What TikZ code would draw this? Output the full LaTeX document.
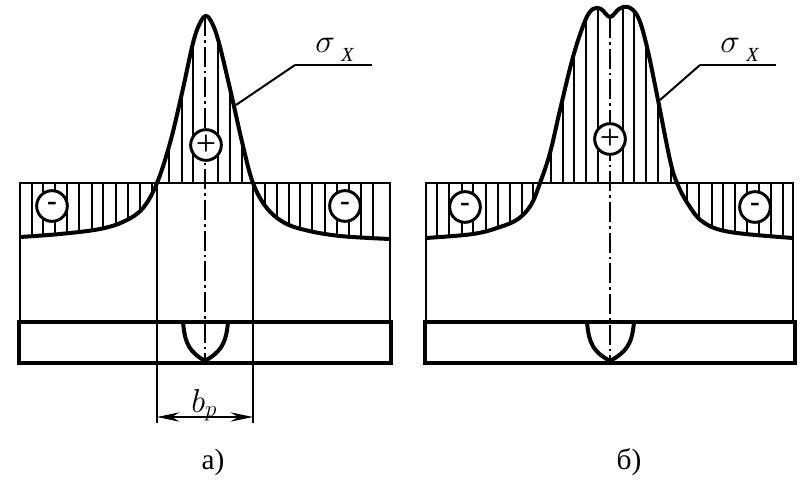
\documentclass[tikz,border=0pt]{standalone}
\usepackage{fontspec}
\setmainfont{Liberation Serif}
\usetikzlibrary{arrows.meta}

\tikzset{
  thinline/.style={line width=1.4pt},
  hatchline/.style={line width=1.2pt},
  curveline/.style={line width=3pt, line join=round},
  barline/.style={line width=3.6pt, line join=miter},
  leaderline/.style={line width=1.5pt},
  shelfline/.style={line width=2.2pt},
  axisline/.style={line width=1.3pt, dash pattern=on 15pt off 3pt on 2pt off 3pt},
  signnode/.style={circle, draw, line width=2.2pt, fill=white, minimum size=23pt, inner sep=0pt},
  plusnode/.style={signnode, font=\fontsize{27}{27}\selectfont},
  minusnode/.style={signnode, font=\fontsize{22}{22}\selectfont\bfseries},
  caption/.style={font=\fontsize{22}{22}\selectfont},
  sigmalabel/.style={anchor=base west, inner sep=0pt, font=\fontsize{29}{29}\selectfont},
  widthlabel/.style={anchor=base west, inner sep=0pt, font=\fontsize{24}{24}\selectfont},
  dimarrow/.style={line width=1.3pt, {Stealth[length=17pt, width=7pt, inset=6pt]}-{Stealth[length=17pt, width=7pt, inset=6pt]}}
}

\newcommand{\sigmax}{$\sigma$\,\lower6.7pt\hbox{\fontsize{15}{15}\selectfont\itshape X}}

\def\curveA{plot[smooth, tension=0.6] coordinates {(20,237) (60,234) (100,229) (125,221) (143,208) (157,183) (170,143) (182,93) (193,43) (200,23) (206,16) (212,23) (219,43) (231,93) (243,146) (253,183) (266,207) (283,222) (305,230) (340,236) (390,239)}}
\def\curveB{plot[smooth, tension=0.6] coordinates {(426,238) (473,234) (500,227) (518,219) (531,205) (540,183) (550,153) (560,110) (573,57) (585,21) (593,9) (601,9) (610,17) (619,9) (628,7) (638,17) (647,47) (658,100) (670,160) (677,183) (688,204) (703,222) (730,232) (793,238)}}

\begin{document}
\begin{tikzpicture}[x=0.75pt, y=-0.75pt]
  \useasboundingbox (0,0) rectangle (811,481);

  % left
  \begin{scope}
    \clip \curveA -- (390,183) -- (20,183) -- cycle;
    \foreach \x in {32,43,55,67,79,92,103,116,128,140,152,169,182,193,218,230,242,265,277,289,300,312,325,337,349,361,373}
      \draw[hatchline] (\x,0) -- (\x,300);
  \end{scope}

  \coordinate (Atl) at (20,183);
  \coordinate (Atr) at (390,183);
  \coordinate (Abl) at (20,322);
  \coordinate (Abr) at (390,322);
  \coordinate (Aml) at (157,183);
  \coordinate (Amr) at (253,183);
  \coordinate (Adl) at (157,423);
  \coordinate (Adr) at (253,423);
  \coordinate (Ael) at (157,417);
  \coordinate (Aer) at (253,417);
  \coordinate (Act) at (205,16);
  \coordinate (Acb) at (205,361);

  \draw[thinline] (Abl) -- (Atl) -- (Atr) -- (Abr);
  \draw[thinline] (Aml) -- (Adl);
  \draw[thinline] (Amr) -- (Adr);
  \draw[axisline] (Act) -- (Acb);
  \draw[curveline] \curveA;
  \draw[barline] (19,322) rectangle (391,363);
  \draw[curveline] (183,322) .. controls (185,345) and (190,352) .. (205,361) .. controls (220,352) and (226,345) .. (228,322);
  \draw[dimarrow] (Ael) -- (Aer);

  \node[plusnode] (Aplus) at (206,145) {+};
  \node[minusnode] (Aminl) at (52,206) {-};
  \node[minusnode] (Aminr) at (345,206) {-};

  \coordinate (Ala) at (236,105);
  \coordinate (Alb) at (295,65);
  \coordinate (Alc) at (372,65);
  \draw[leaderline] (Ala) -- (Alb);
  \draw[shelfline] (Alb) -- (Alc);
  \node[sigmalabel] (Asigma) at (315,53) {\sigmax};
  \node[widthlabel] (Abp) at (191,412) {$b_p$};
  \node[caption] (Acap) at (213,462) {а)};

  % right
  \begin{scope}
    \clip \curveB -- (793,183) -- (426,183) -- cycle;
    \foreach \x in {437,449,462,473,486,498,510,522,533,551,563,574,586,598,623,634,646,658,671,687,699,712,723,735,747,759,771,783}
      \draw[hatchline] (\x,0) -- (\x,300);
  \end{scope}

  \coordinate (Btl) at (426,183);
  \coordinate (Btr) at (793,183);
  \coordinate (Bbl) at (426,322);
  \coordinate (Bbr) at (793,322);
  \coordinate (Bct) at (610,18);
  \coordinate (Bcb) at (610,361);

  \draw[thinline] (Bbl) -- (Btl) -- (Btr) -- (Bbr);
  \draw[axisline] (Bct) -- (Bcb);
  \draw[curveline] \curveB;
  \draw[barline] (425,322) rectangle (795,363);
  \draw[curveline] (587,322) .. controls (589,345) and (594,352) .. (610,361) .. controls (626,352) and (632,345) .. (634,322);

  \node[plusnode] (Bplus) at (610,139) {+};
  \node[minusnode] (Bminl) at (465,207) {-};
  \node[minusnode] (Bminr) at (755,207) {-};

  \coordinate (Bla) at (660,100);
  \coordinate (Blb) at (700,65);
  \coordinate (Blc) at (776,65);
  \draw[leaderline] (Bla) -- (Blb);
  \draw[shelfline] (Blb) -- (Blc);
  \node[sigmalabel] (Bsigma) at (720,53) {\sigmax};
  \node[caption] (Bcap) at (629,462) {б)};
\end{tikzpicture}
\end{document}
